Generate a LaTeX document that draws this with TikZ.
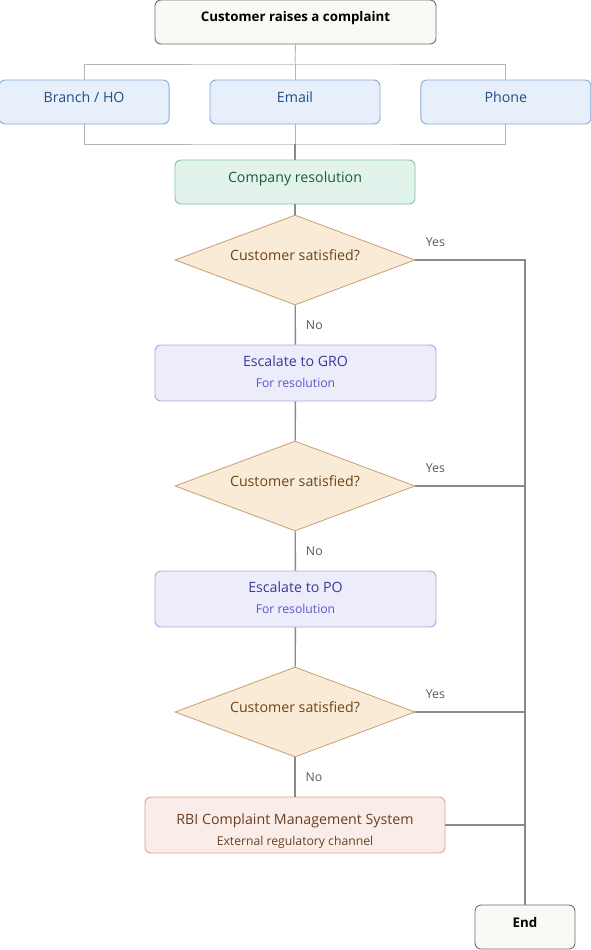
\documentclass[tikz,border=0pt]{standalone}
\usepackage{fontspec}
\setmainfont{Open Sans}
\usetikzlibrary{positioning,shapes.geometric,calc}

\definecolor{linegray}{HTML}{8A8A86}
\definecolor{thingray}{HTML}{B4B4B0}
\definecolor{startfill}{HTML}{FAF9F6}
\definecolor{startdraw}{HTML}{6E6E6A}
\definecolor{chanfill}{HTML}{E6EFFA}
\definecolor{chandraw}{HTML}{86AAD8}
\definecolor{chantext}{HTML}{234E86}
\definecolor{resfill}{HTML}{E1F3EB}
\definecolor{resdraw}{HTML}{82C4A6}
\definecolor{restext}{HTML}{1E5A40}
\definecolor{askfill}{HTML}{FAEBD7}
\definecolor{askdraw}{HTML}{C9A57C}
\definecolor{asktext}{HTML}{6A4518}
\definecolor{escfill}{HTML}{EDECFB}
\definecolor{escdraw}{HTML}{ABA7E2}
\definecolor{esctext}{HTML}{3D3898}
\definecolor{escsub}{HTML}{5F56C8}
\definecolor{rbifill}{HTML}{FAECE8}
\definecolor{rbidraw}{HTML}{D9A291}
\definecolor{rbitext}{HTML}{6A4020}

\begin{document}
\begin{tikzpicture}[x=1pt,y=-1pt,
	box/.style={draw,rounded corners=6pt,line width=0.9pt,align=center,inner sep=0pt},
	oneline/.style={text height=10pt,text depth=10pt},
	terminal/.style={box,oneline,fill=startfill,draw=startdraw,font=\bfseries\fontsize{13.3}{16}\selectfont},
	channel/.style={box,oneline,fill=chanfill,draw=chandraw,text=chantext,minimum width=170pt,minimum height=44pt,font=\fontsize{14.2}{17}\selectfont},
	ask/.style={diamond,oneline,aspect=2.67,draw=askdraw,fill=askfill,text=asktext,line width=0.9pt,minimum width=240pt,minimum height=90pt,inner sep=0pt,font=\fontsize{14.2}{17}\selectfont},
	escal/.style={box,fill=escfill,draw=escdraw,text=esctext,minimum width=281pt,minimum height=56pt,text height=31.5pt,text depth=3.5pt,font=\fontsize{14.2}{21}\selectfont},
	flow/.style={draw=linegray,line width=1.4pt},
	fork/.style={draw=thingray,line width=0.9pt},
	lbl/.style={text=black!65,font=\fontsize{12.3}{14}\selectfont,inner sep=0pt}]
	\useasboundingbox (0,0) rectangle (591,950);

	% Start
	\node[terminal,minimum width=281pt,minimum height=44pt] (start) at (295.5,22) {Customer raises a complaint};

	% The three channels
	\node[channel] (email) at (295,102) {Email};
	\node[channel,left=40pt of email] (branch) {Branch / HO};
	\node[channel,right=40pt of email] (phone) {Phone};
	\coordinate (split) at (295,64);
	\coordinate (merge) at (295,144);

	% Company level
	\node[box,oneline,fill=resfill,draw=resdraw,text=restext,minimum width=240pt,minimum height=44pt,font=\fontsize{14.2}{17}\selectfont] (company) at (295,182) {Company resolution};
	\node[ask] (ask1) at (295,260) {Customer satisfied?};

	% GRO level
	\node[escal] (gro) at (295.5,373) {Escalate to GRO\\{\color{escsub}\fontsize{12.2}{21}\selectfont For resolution}};
	\node[ask] (ask2) at (295,486) {Customer satisfied?};

	% PO level
	\node[escal] (po) at (295.5,599) {Escalate to PO\\{\color{escsub}\fontsize{12.2}{21}\selectfont For resolution}};
	\node[ask] (ask3) at (295,712) {Customer satisfied?};

	% Regulator
	\node[box,fill=rbifill,draw=rbidraw,text=rbitext,minimum width=300pt,minimum height=56pt,text height=45pt,text depth=3.5pt,font=\fontsize{14.2}{21}\selectfont] (rbi) at (295,825) {RBI Complaint Management System\\{\fontsize{12.2}{21}\selectfont External regulatory channel}};

	% End
	\node[terminal,minimum width=100pt,minimum height=44pt] (end) at (525,927) {End};

	% Fan out and in
	\draw[fork] (start.south) -- (split);
	\draw[fork] (branch.north) |- (split) -| (phone.north);
	\draw[fork] (split) -- (email.north);
	\draw[fork] (branch.south) |- (merge) -| (phone.south);
	\draw[fork] (email.south) -- (merge);
	\draw[flow] (merge) -- (company.north);

	% Main flow
	\draw[flow] (company) -- (ask1);
	\draw[flow] (ask1) -- node[lbl,right=10pt,pos=0.5] {No} (gro);
	\draw[flow] (gro) -- (ask2);
	\draw[flow] (ask2) -- node[lbl,right=10pt,pos=0.5] {No} (po);
	\draw[flow] (po) -- (ask3);
	\draw[flow] (ask3) -- node[lbl,right=10pt,pos=0.5] {No} (rbi);

	% Yes branches
	\draw[flow] (ask1.east) -| (end.north);
	\draw[flow] (ask2.east) -- (ask2.east -| end.north);
	\draw[flow] (ask3.east) -- (ask3.east -| end.north);
	\draw[flow] (rbi.east) -- (rbi.east -| end.north);
	\node[lbl] at ($(ask1.east)+(20,-18)$) {Yes};
	\node[lbl] at ($(ask2.east)+(20,-18)$) {Yes};
	\node[lbl] at ($(ask3.east)+(20,-18)$) {Yes};
\end{tikzpicture}
\end{document}
